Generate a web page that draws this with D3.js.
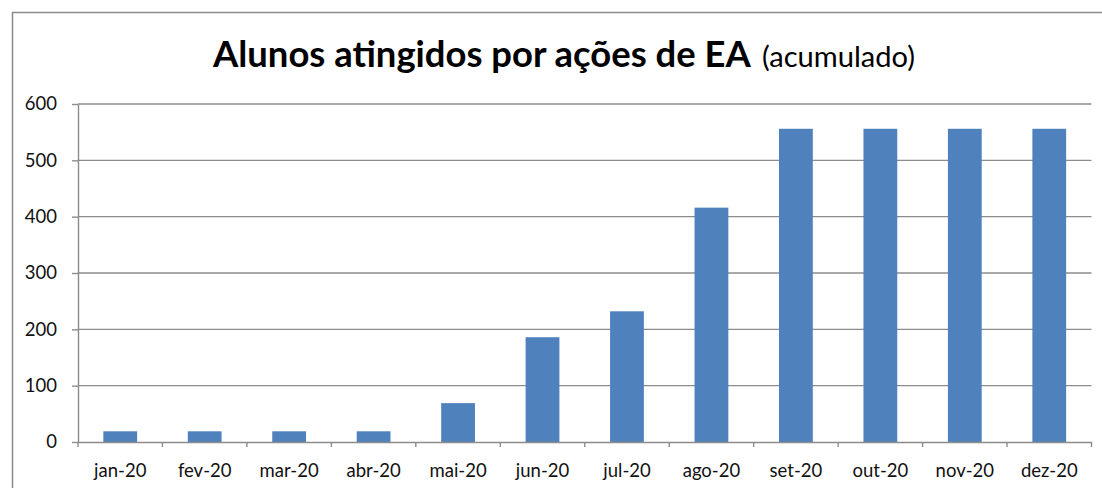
<!DOCTYPE html>
<html>
<head>
<meta charset="utf-8">
<script src="https://cdn.jsdelivr.net/npm/d3@7/dist/d3.min.js"></script>
<style>
  html, body { margin: 0; padding: 0; background: #ffffff; }
  svg { display: block; }
</style>
</head>
<body>
<svg id="chart" width="1102" height="488"></svg>
<script>
const categories = ["jan-20","fev-20","mar-20","abr-20","mai-20","jun-20","jul-20","ago-20","set-20","out-20","nov-20","dez-20"];
const values = [19, 19, 19, 19, 69, 186, 232, 416, 556, 556, 556, 556];
const yTicks = [0, 100, 200, 300, 400, 500, 600];
const titleMain = "Alunos atingidos por ações de EA";
const titleSub = "(acumulado)";

const W = 1102, H = 488;
const margin = { left: 78, right: 1102 - 1091.5, top: 104, bottom: 488 - 442 };
const svg = d3.select("#chart");
const FONT = "Lato, 'Open Sans', sans-serif";

// outer chart border (top and left visible)
svg.append("path")
  .attr("d", `M12.5,${H} L12.5,12.5 L${W},12.5`)
  .attr("fill", "none").attr("stroke", "#8a8a8a").attr("stroke-width", 1.5);

const x = d3.scaleBand().domain(categories).range([margin.left, W - margin.right]).paddingInner(0.6).paddingOuter(0.3);
const xb = d3.scaleBand().domain(categories).range([margin.left, W - margin.right]).padding(0);
const y = d3.scaleLinear().domain([0, 600]).range([H - margin.bottom, margin.top]);

// gridlines
svg.append("g").selectAll("line").data(yTicks.filter(d => d > 0)).join("line")
  .attr("x1", margin.left).attr("x2", W - margin.right)
  .attr("y1", d => y(d)).attr("y2", d => y(d))
  .attr("stroke", "#8c8c8c").attr("stroke-width", 1.4);

// bars
svg.append("g").selectAll("rect").data(values).join("rect")
  .attr("x", (d, i) => x(categories[i]))
  .attr("width", x.bandwidth())
  .attr("y", d => y(d))
  .attr("height", d => y(0) - y(d))
  .attr("fill", "#4f81bd");

// y axis
const yAxis = d3.axisLeft(y).tickValues(yTicks).tickSize(6).tickPadding(15).tickSizeOuter(0);
const gy = svg.append("g").attr("transform", `translate(${margin.left},0)`).call(yAxis);
gy.select(".domain").attr("stroke", "#8c8c8c").attr("stroke-width", 1.4);
gy.selectAll(".tick line").attr("stroke", "#8c8c8c").attr("stroke-width", 1.4);
gy.selectAll(".tick text").attr("font-family", FONT).attr("font-size", 18.5).attr("fill", "#111");

// x axis
const xAxis = d3.axisBottom(xb).tickSize(0).tickPadding(22).tickSizeOuter(0);
const gx = svg.append("g").attr("transform", `translate(0,${y(0)})`).call(xAxis);
gx.select(".domain").attr("stroke", "#8c8c8c").attr("stroke-width", 1.4);
gx.selectAll(".tick text").attr("font-family", FONT).attr("font-size", 18.5).attr("fill", "#111");
// boundary ticks between categories
const bounds = categories.map(c => xb(c)).concat([W - margin.right]);
gx.append("g").selectAll("line").data(bounds).join("line")
  .attr("x1", d => d).attr("x2", d => d).attr("y1", 0).attr("y2", 5)
  .attr("stroke", "#8c8c8c").attr("stroke-width", 1.4);

// title: bold part then lighter sub part, fitted to reference extents
const tMain = svg.append("text").attr("y", 67).attr("font-family", FONT)
  .attr("font-weight", "bold").attr("font-size", 30).attr("fill", "#000").text(titleMain);
let w1 = tMain.node().getComputedTextLength();
tMain.attr("font-size", 30 * 538 / w1).attr("x", 213);
const tSub = svg.append("text").attr("y", 67).attr("font-family", FONT)
  .attr("font-size", 22).attr("fill", "#000").text(titleSub);
let w2 = tSub.node().getComputedTextLength();
tSub.attr("font-size", 22 * 153 / w2).attr("x", 762);
</script>
</body>
</html>
